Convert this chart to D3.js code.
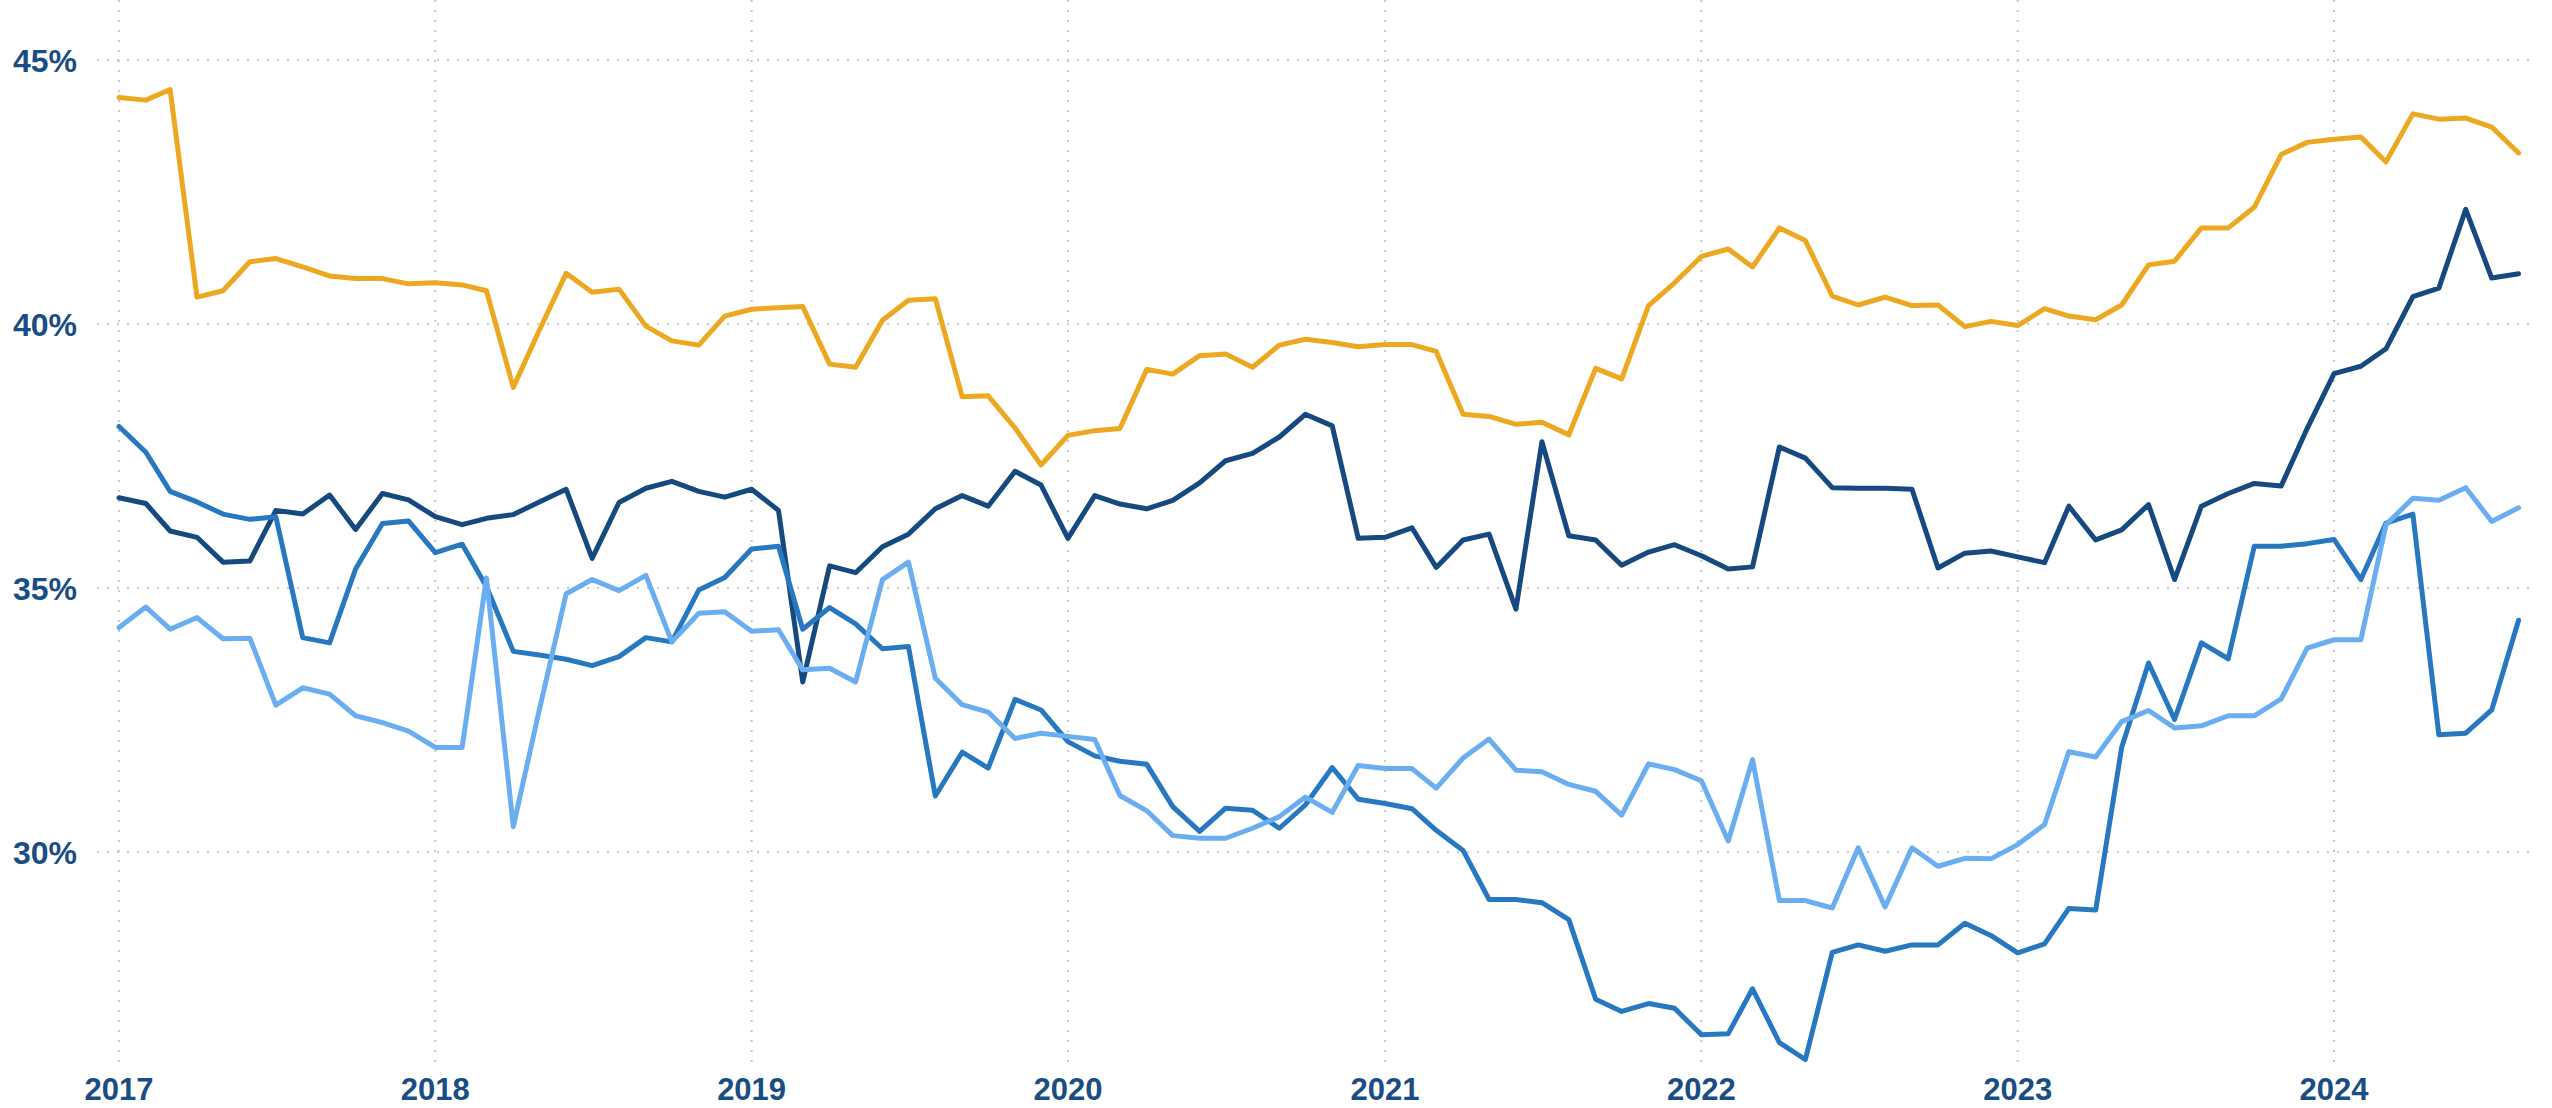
<!DOCTYPE html>
<html>
<head>
<meta charset="utf-8">
<script src="https://cdn.jsdelivr.net/npm/d3@7"></script>
<style>
  body { margin: 0; background: #fff; }
  svg { display: block; }
</style>
</head>
<body>
<svg></svg>
<script>
const width = 2552;
const height = 1108;

// first month of the series, one value per month
const startMonth = new Date(2017, 0, 1);

const yTicks = [30, 35, 40, 45];
const yearTicks = [2017, 2018, 2019, 2020, 2021, 2022, 2023, 2024];

const seriesNames = ["orange", "navy", "medium", "light"];
const seriesColors = ["#eca820", "#15497f", "#2777c1", "#6badf1"];

const orangeValues = [
    44.29, 44.24, 44.44, 40.51, 40.63, 41.18, 41.24, 41.08, 40.91, 40.86, 40.86, 40.76,
    40.78, 40.74, 40.63, 38.80, 39.88, 40.96, 40.60, 40.66, 39.96, 39.68, 39.60, 40.15,
    40.28, 40.31, 40.33, 39.24, 39.18, 40.07, 40.45, 40.48, 38.62, 38.64, 38.03, 37.33,
    37.89, 37.98, 38.02, 39.14, 39.05, 39.40, 39.43, 39.18, 39.60, 39.71, 39.65, 39.57,
    39.61, 39.61, 39.48, 38.29, 38.25, 38.10, 38.14, 37.90, 39.16, 38.96, 40.35, 40.78,
    41.28, 41.42, 41.08, 41.82, 41.58, 40.53, 40.36, 40.51, 40.35, 40.36, 39.95, 40.05,
    39.97, 40.29, 40.15, 40.08, 40.36, 41.12, 41.19, 41.82, 41.82, 42.21, 43.21, 43.44,
    43.50, 43.54, 43.07, 43.98, 43.88, 43.90, 43.73, 43.24
];

const navyValues = [
    36.71, 36.60, 36.08, 35.96, 35.49, 35.51, 36.47, 36.40, 36.76, 36.11, 36.79, 36.67,
    36.35, 36.20, 36.32, 36.39, 36.63, 36.87, 35.56, 36.62, 36.89, 37.02, 36.83, 36.72,
    36.87, 36.47, 33.22, 35.42, 35.29, 35.78, 36.02, 36.50, 36.75, 36.55, 37.21, 36.95,
    35.94, 36.75, 36.59, 36.50, 36.66, 36.99, 37.41, 37.55, 37.86, 38.29, 38.07, 35.94,
    35.96, 36.14, 35.39, 35.91, 36.02, 34.60, 37.77, 35.99, 35.91, 35.43, 35.68, 35.82,
    35.61, 35.36, 35.40, 37.67, 37.46, 36.90, 36.89, 36.89, 36.87, 35.38, 35.66, 35.70,
    35.59, 35.48, 36.55, 35.91, 36.10, 36.58, 35.16, 36.55, 36.79, 36.98, 36.93, 38.02,
    39.06, 39.20, 39.53, 40.52, 40.68, 42.17, 40.87, 40.95
];

const mediumValues = [
    38.06, 37.57, 36.83, 36.63, 36.40, 36.30, 36.35, 34.06, 33.96, 35.36, 36.22, 36.27,
    35.67, 35.83, 35.03, 33.80, 33.73, 33.65, 33.53, 33.70, 34.06, 33.98, 34.96, 35.20,
    35.74, 35.79, 34.22, 34.63, 34.32, 33.85, 33.89, 31.06, 31.89, 31.59, 32.89, 32.69,
    32.09, 31.82, 31.72, 31.66, 30.86, 30.39, 30.83, 30.79, 30.45, 30.89, 31.60, 31.00,
    30.92, 30.82, 30.41, 30.03, 29.10, 29.10, 29.04, 28.72, 27.21, 26.98, 27.13, 27.04,
    26.54, 26.56, 27.41, 26.39, 26.07, 28.10, 28.24, 28.12, 28.24, 28.24, 28.65, 28.42,
    28.09, 28.26, 28.93, 28.90, 31.98, 33.58, 32.51, 33.96, 33.66, 35.79, 35.79, 35.84,
    35.92, 35.16, 36.23, 36.40, 32.22, 32.25, 32.69, 34.39
];

const lightValues = [
    34.25, 34.64, 34.22, 34.44, 34.04, 34.05, 32.78, 33.11, 32.99, 32.58, 32.45, 32.29,
    31.98, 31.98, 35.19, 30.48, 32.69, 34.89, 35.16, 34.95, 35.24, 33.98, 34.52, 34.55,
    34.18, 34.21, 33.45, 33.48, 33.22, 35.16, 35.49, 33.29, 32.79, 32.65, 32.15, 32.25,
    32.19, 32.13, 31.07, 30.78, 30.31, 30.26, 30.26, 30.45, 30.67, 31.04, 30.75, 31.64,
    31.58, 31.58, 31.21, 31.78, 32.14, 31.55, 31.52, 31.28, 31.15, 30.70, 31.67, 31.56,
    31.35, 30.21, 31.75, 29.08, 29.08, 28.94, 30.08, 28.96, 30.08, 29.73, 29.88, 29.87,
    30.14, 30.52, 31.90, 31.80, 32.47, 32.68, 32.35, 32.39, 32.58, 32.58, 32.90, 33.86,
    34.02, 34.02, 36.20, 36.70, 36.66, 36.90, 36.26, 36.52
];

const seriesValues = [orangeValues, navyValues, mediumValues, lightValues];

const months = orangeValues.map((d, i) => d3.timeMonth.offset(startMonth, i));

const svg = d3.select("svg")
    .attr("width", width)
    .attr("height", height);

const x = d3.scaleTime()
    .domain([new Date(2017, 0, 1), new Date(2024, 0, 1)])
    .range([119, 2334]);

const y = d3.scaleLinear()
    .domain([30, 45])
    .range([852, 60]);

const labelColor = "#1b4d85";
const labelFont = "'Liberation Sans', Arial, Helvetica, sans-serif";

// dotted grid
const grid = svg.append("g");

grid.selectAll("hLines")
    .data(yTicks)
    .join("line")
        .attr("x1", 97)
        .attr("x2", 2530)
        .attr("y1", d => y(d))
        .attr("y2", d => y(d))
        .attr("stroke", "#c8c8c8")
        .attr("stroke-width", 2)
        .attr("stroke-dasharray", "2,8");

grid.selectAll("vLines")
    .data(yearTicks)
    .join("line")
        .attr("x1", d => x(new Date(d, 0, 1)))
        .attr("x2", d => x(new Date(d, 0, 1)))
        .attr("y1", 0)
        .attr("y2", 1066)
        .attr("stroke", "#c8c8c8")
        .attr("stroke-width", 2)
        .attr("stroke-dasharray", "2,8");

// y labels
svg.append("g")
    .selectAll("text")
    .data(yTicks)
    .join("text")
        .attr("x", 77)
        .attr("y", d => y(d))
        .attr("dy", "0.36em")
        .attr("text-anchor", "end")
        .attr("fill", labelColor)
        .style("font-family", labelFont)
        .style("font-weight", "bold")
        .style("font-size", "32px")
        .text(d => d + "%");

// x labels
svg.append("g")
    .selectAll("text")
    .data(yearTicks)
    .join("text")
        .attr("x", d => x(new Date(d, 0, 1)))
        .attr("y", 1100)
        .attr("text-anchor", "middle")
        .attr("fill", labelColor)
        .style("font-family", labelFont)
        .style("font-weight", "bold")
        .style("font-size", "31px")
        .text(d => d);

// lines
const line = d3.line()
    .x((d, i) => x(months[i]))
    .y(d => y(d));

svg.append("g")
    .selectAll("path")
    .data(seriesValues)
    .join("path")
        .attr("d", d => line(d))
        .attr("fill", "none")
        .attr("stroke", (d, i) => seriesColors[i])
        .attr("stroke-width", 5)
        .attr("stroke-linejoin", "round")
        .attr("stroke-linecap", "round");
</script>
</body>
</html>
